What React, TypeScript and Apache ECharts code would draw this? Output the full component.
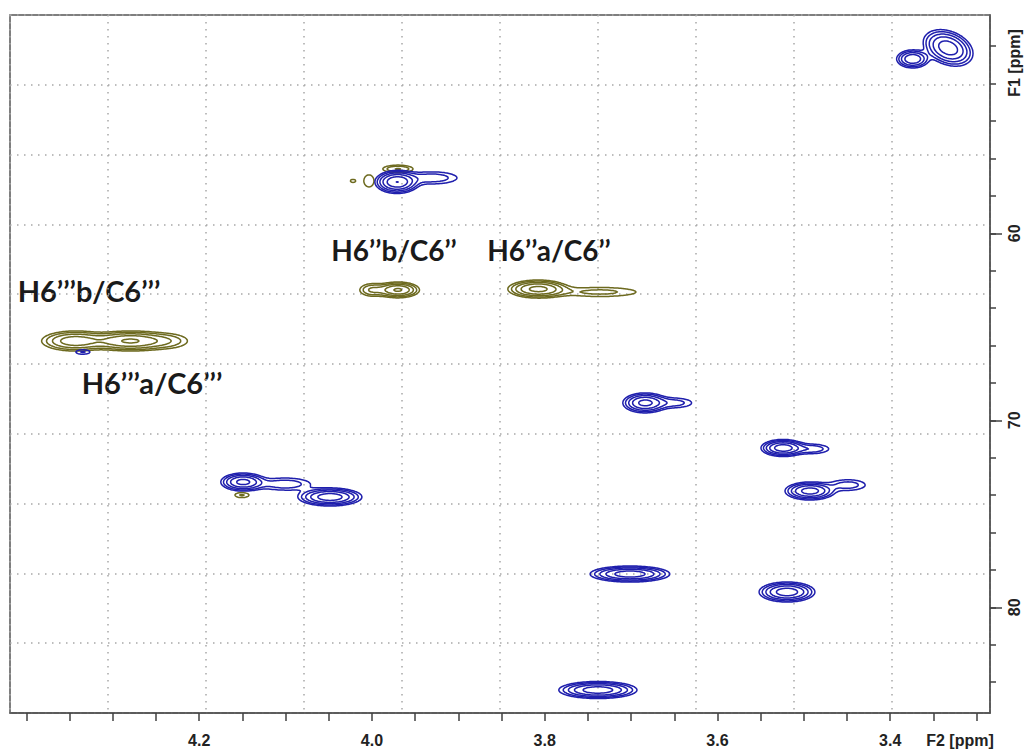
import React, { useEffect, useRef } from "react";
import * as echarts from "echarts";

// ---------- axes ----------
const f2Range = [3.2845, 4.419];
const f1Range = [48.33, 85.65];
const f2TickValues = [3.3, 3.35, 3.4, 3.45, 3.5, 3.55, 3.6, 3.65, 3.7, 3.75, 3.8, 3.85, 3.9, 3.95, 4.0, 4.05, 4.1, 4.15, 4.2, 4.25, 4.3, 4.35, 4.4];
const f2LabelValues = [3.4, 3.6, 3.8, 4.0, 4.2];
const f1TickValues = [50, 52, 54, 56, 58, 60, 62, 64, 66, 68, 70, 72, 74, 76, 78, 80, 82, 84];
const f1LabelValues = [60, 70, 80];

// absolute contour levels (same for every peak)
const contourLevels = [1, 1.7, 2.9, 4.9, 8.4, 14.2];

// [F2 ppm, F1 ppm, F2 width (ppm), F1 width (ppm), intensity, tilt (deg)]
const bluePeaks = [
  [3.374, 50.68, 0.0091, 0.236, 8, 0],
  [3.333, 50.09, 0.0135, 0.4, 12, 22],
  [3.971, 57.26, 0.0111, 0.267, 14, 0],
  [3.9305, 57.04, 0.0214, 0.237, 2.5, 0],
  [4.3346, 66.35, 0.0075, 0.109, 1.8, 0],
  [3.684, 69.07, 0.0119, 0.249, 10, 0],
  [3.65, 69.07, 0.016, 0.2, 2.2, 0],
  [3.5242, 71.48, 0.0114, 0.204, 12, 0],
  [3.4906, 71.53, 0.014, 0.18, 2.6, 0],
  [4.1494, 73.3, 0.0119, 0.224, 10, 0],
  [4.1007, 73.41, 0.0214, 0.237, 2.5, 0],
  [4.0486, 74.1, 0.0166, 0.216, 12, 0],
  [3.4929, 73.78, 0.0132, 0.22, 11, 0],
  [3.4489, 73.46, 0.0154, 0.217, 2.3, 0],
  [3.7013, 78.22, 0.0207, 0.192, 12, 0],
  [3.5195, 79.18, 0.0145, 0.24, 12, 0],
  [3.7384, 84.42, 0.0203, 0.204, 12, 0],
];

const olivePeaks = [
  [3.9699, 56.56, 0.0118, 0.136, 3, 0],
  [4.0035, 57.2, 0.006, 0.331, 1.6, 0],
  [4.022, 57.2, 0.004, 0.111, 1.3, 0],
  [3.9699, 63.03, 0.0119, 0.202, 9, 0],
  [4.0, 63.03, 0.0094, 0.217, 3, 0],
  [3.8078, 62.98, 0.0162, 0.224, 10, 0],
  [3.736, 63.14, 0.0354, 0.204, 2, 0],
  [4.3439, 65.76, 0.0195, 0.271, 7, 0],
  [4.2802, 65.76, 0.0225, 0.255, 9, 0],
  [4.2362, 65.76, 0.0177, 0.273, 2, 0],
  [4.1505, 74.0, 0.0075, 0.123, 1.8, 0],
];

const annotationTexts = ["H6’’b/C6’’", "H6’’a/C6’’", "H6’’’b/C6’’’", "H6’’’a/C6’’’"];

const BLUE = "#1f1fad";
const OLIVE = "#6d6a1f";

// marching-squares edge pairs, edges: 0 top, 1 right, 2 bottom, 3 left
const MS_TABLE: number[][][] = [
  [], [[3, 0]], [[0, 1]], [[3, 1]], [[1, 2]], [[3, 0], [1, 2]], [[0, 2]], [[3, 2]],
  [[2, 3]], [[0, 2]], [[0, 1], [2, 3]], [[1, 2]], [[1, 3]], [[0, 1]], [[3, 0]], [],
];

function makeRenderItem(peaks: number[][], color: string) {
  return (params: any, api: any) => {
    if (params.dataIndex !== 0) return null;
    const cs = params.coordSys;
    const x0 = Math.floor(cs.x);
    const y0 = Math.floor(cs.y);
    const W = Math.ceil(cs.width) + 2;
    const H = Math.ceil(cs.height) + 2;
    const field = new Float32Array(W * H);
    for (const p of peaks) {
      const c = api.coord([p[0], p[1]]);
      const cx = api.coord([p[0] + p[2], p[1]]);
      const cy = api.coord([p[0], p[1] + p[3]]);
      const sx = Math.abs(cx[0] - c[0]);
      const sy = Math.abs(cy[1] - c[1]);
      const amp = p[4];
      const th = (p[5] * Math.PI) / 180;
      const cos = Math.cos(th), sin = Math.sin(th);
      const r = 4.5 * Math.max(sx, sy);
      const i0 = Math.max(0, Math.floor(c[0] - r - x0));
      const i1 = Math.min(W - 1, Math.ceil(c[0] + r - x0));
      const j0 = Math.max(0, Math.floor(c[1] - r - y0));
      const j1 = Math.min(H - 1, Math.ceil(c[1] + r - y0));
      for (let j = j0; j <= j1; j++) {
        const dy = y0 + j - c[1];
        for (let i = i0; i <= i1; i++) {
          const dx = x0 + i - c[0];
          const u = (dx * cos + dy * sin) / sx;
          const v = (-dx * sin + dy * cos) / sy;
          const q = u * u + v * v;
          if (q < 40) field[j * W + i] += amp * Math.exp(-0.5 * q);
        }
      }
    }
    const paths: string[][] = contourLevels.map(() => []);
    const minL = contourLevels[0];
    const f = (n: number) => n.toFixed(1);
    for (let j = 0; j < H - 1; j++) {
      for (let i = 0; i < W - 1; i++) {
        const a = field[j * W + i];
        const b = field[j * W + i + 1];
        const c = field[(j + 1) * W + i + 1];
        const d = field[(j + 1) * W + i];
        const mx = Math.max(a, b, c, d);
        if (mx < minL) continue;
        const mn = Math.min(a, b, c, d);
        for (let k = 0; k < contourLevels.length; k++) {
          const L = contourLevels[k];
          if (mx < L) break;
          if (mn >= L) continue;
          const idx = (a >= L ? 1 : 0) | (b >= L ? 2 : 0) | (c >= L ? 4 : 0) | (d >= L ? 8 : 0);
          const segs = MS_TABLE[idx];
          const pt = (e: number): [number, number] => {
            if (e === 0) return [x0 + i + (L - a) / (b - a), y0 + j];
            if (e === 1) return [x0 + i + 1, y0 + j + (L - b) / (c - b)];
            if (e === 2) return [x0 + i + (L - d) / (c - d), y0 + j + 1];
            return [x0 + i, y0 + j + (L - a) / (d - a)];
          };
          for (const s of segs) {
            const p1 = pt(s[0]);
            const p2 = pt(s[1]);
            paths[k].push("M" + f(p1[0]) + " " + f(p1[1]) + "L" + f(p2[0]) + " " + f(p2[1]));
          }
        }
      }
    }
    return {
      type: "group",
      children: paths
        .filter((p) => p.length > 0)
        .map((p) => ({
          type: "path",
          shape: { pathData: p.join("") },
          style: { fill: "none", stroke: color, lineWidth: 1.5, lineCap: "round", lineJoin: "round" },
        })),
    };
  };
}

const AXIS_FONT = "'Liberation Sans Narrow', 'Liberation Sans', Arial, sans-serif";
const NOTE_FONT = "bold 28px Lato, 'Open Sans', sans-serif";
const NOTE_FONT_WIDE = "bold 29px Lato, 'Open Sans', sans-serif";

export default function App() {
  const ref = useRef<HTMLDivElement>(null);
  useEffect(() => {
    if (!ref.current) return;
    const chart = echarts.init(ref.current, null, { renderer: "svg" });
    const gridSplit = {
      show: true,
      lineStyle: { color: "#a8a8a8", width: 1.5, type: [1.5, 5.5] },
    };
    const hidden = { show: false };
    chart.setOption({
      animation: false,
      backgroundColor: "#ffffff",
      grid: {
        left: 10,
        top: 15,
        right: 36,
        bottom: 38,
        show: true,
        borderColor: "#555555",
        borderWidth: 1.5,
        backgroundColor: "transparent",
      },
      xAxis: [
        {
          type: "value",
          position: "bottom",
          inverse: true,
          min: f2Range[0],
          max: f2Range[1],
          axisLine: { show: true, onZero: false, lineStyle: { color: "#505050", width: 1.5 } },
          axisTick: { show: true, length: 8, customValues: f2TickValues, lineStyle: { color: "#404040", width: 1.5 } },
          axisLabel: {
            show: true,
            customValues: f2LabelValues,
            formatter: (v: number) => v.toFixed(1),
            margin: 19,
            fontFamily: AXIS_FONT,
            fontWeight: "bold",
            fontSize: 16,
            color: "#222",
          },
          splitLine: hidden,
        },
        {
          type: "value",
          position: "top",
          min: 0,
          max: 10,
          interval: 1,
          axisLine: { show: false, onZero: false },
          axisTick: hidden,
          axisLabel: hidden,
          splitLine: gridSplit,
        },
      ],
      yAxis: [
        {
          type: "value",
          position: "right",
          inverse: true,
          min: f1Range[0],
          max: f1Range[1],
          axisLine: { show: true, onZero: false, lineStyle: { color: "#505050", width: 1.5 } },
          axisTick: { show: true, length: 6, customValues: f1TickValues, lineStyle: { color: "#404040", width: 1.5 } },
          axisLabel: hidden,
          splitLine: hidden,
        },
        {
          type: "value",
          position: "left",
          min: 0,
          max: 10,
          interval: 1,
          axisLine: { show: false, onZero: false },
          axisTick: hidden,
          axisLabel: hidden,
          splitLine: gridSplit,
        },
        {
          type: "value",
          position: "right",
          inverse: true,
          min: f1Range[0],
          max: f1Range[1],
          axisLine: { show: false, onZero: false },
          axisTick: { show: true, length: 12, customValues: f1LabelValues, lineStyle: { color: "#404040", width: 1.5 } },
          axisLabel: {
            show: true,
            customValues: f1LabelValues,
            rotate: 90,
            margin: 16,
            fontFamily: AXIS_FONT,
            fontWeight: "bold",
            fontSize: 16,
            color: "#222",
          },
          splitLine: hidden,
        },
      ],
      series: [
        {
          type: "custom",
          name: "olive",
          xAxisIndex: 0,
          yAxisIndex: 0,
          silent: true,
          encode: { x: 0, y: 1 },
          data: olivePeaks,
          renderItem: makeRenderItem(olivePeaks, OLIVE),
        },
        {
          type: "custom",
          name: "blue",
          xAxisIndex: 0,
          yAxisIndex: 0,
          silent: true,
          encode: { x: 0, y: 1 },
          data: bluePeaks,
          renderItem: makeRenderItem(bluePeaks, BLUE),
        },
      ],
      graphic: [
        { type: "text", x: 394, y: 250, style: { text: annotationTexts[0], font: NOTE_FONT, fill: "#1a1a1a", align: "center", verticalAlign: "middle" } },
        { type: "text", x: 549, y: 250, style: { text: annotationTexts[1], font: NOTE_FONT, fill: "#1a1a1a", align: "center", verticalAlign: "middle" } },
        { type: "text", x: 89, y: 290, style: { text: annotationTexts[2], font: NOTE_FONT_WIDE, fill: "#1a1a1a", align: "center", verticalAlign: "middle" } },
        { type: "text", x: 152, y: 382, style: { text: annotationTexts[3], font: NOTE_FONT_WIDE, fill: "#1a1a1a", align: "center", verticalAlign: "middle" } },
        {
          type: "text",
          x: 960,
          y: 740,
          style: { text: "F2 [ppm]", font: "bold 16px " + AXIS_FONT, fill: "#222", align: "center", verticalAlign: "middle" },
        },
        {
          type: "text",
          x: 1014,
          y: 63,
          rotation: Math.PI / 2,
          style: { text: "F1 [ppm]", font: "bold 16px " + AXIS_FONT, fill: "#222", align: "center", verticalAlign: "middle" },
        },
      ],
    });
    return () => chart.dispose();
  }, []);
  return <div ref={ref} style={{ position: "absolute", left: 0, top: 0, width: 1026, height: 751 }} />;
}
